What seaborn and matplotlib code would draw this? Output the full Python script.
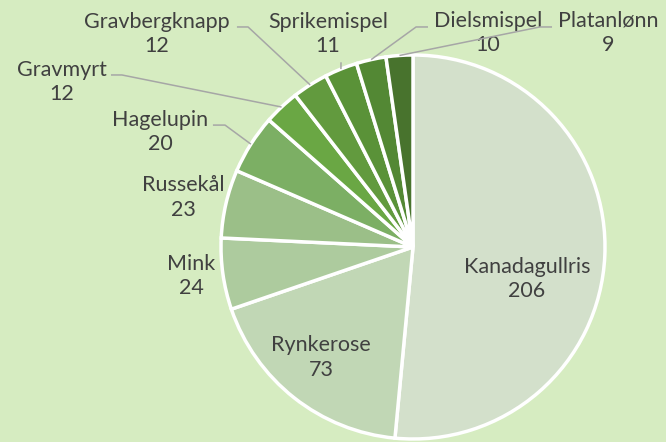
import matplotlib
matplotlib.use("Agg")
import numpy as np
import seaborn as sns
import matplotlib.pyplot as plt

# data
species = ["Kanadagullris", "Rynkerose", "Mink", "Russekål", "Hagelupin",
           "Gravmyrt", "Gravbergknapp", "Sprikemispel", "Dielsmispel", "Platanlønn"]
counts = [206, 73, 24, 23, 20, 12, 12, 11, 10, 9]

# style
colors = ["#d3e0cb", "#c1d7b5", "#adcb9e", "#9bbf88", "#7caf64",
          "#6aa744", "#629a3e", "#5a9238", "#538834", "#48732d"]
bg = "#d6ecc1"
text_color = "#404040"
line_color = "#a6a6a6"

# label block centres (pie units, radius = 1)
label_pos = [(0.594, -0.167), (-0.479, -0.576), (-1.156, -0.151), (-1.198, 0.258),
             (-1.318, 0.599), (-1.828, 0.859), (-1.333, 1.109), (-0.443, 1.109),
             (0.391, 1.115), (1.016, 1.115)]
# leader lines: (start at text, elbow) or None
leaders = [None, None, None, None,
           ((-1.042, 0.635), (-0.979, 0.635)),
           ((-1.573, 0.896), (-1.516, 0.896)),
           ((-0.917, 1.146), (-0.859, 1.146)),
           ((-0.375, 0.962), (-0.375, 0.962)),
           ((0.078, 1.146), (0.016, 1.146)),
           ((0.724, 1.146), (0.661, 1.146))]

sns.set_style("white", rc={"figure.facecolor": bg, "axes.facecolor": bg})
plt.rcParams["font.family"] = ["Lato", "DejaVu Sans"]

fig = plt.figure(figsize=(6.66, 4.42), dpi=100)
ax = fig.add_axes([0, 0, 1, 1])

wedges, _ = ax.pie(counts, colors=colors, startangle=90, counterclock=False,
                   radius=1.0, wedgeprops=dict(edgecolor="white", linewidth=2.5))

for name, val, (lx, ly) in zip(species, counts, label_pos):
    ax.text(lx, ly, f"{name}\n{val}", ha="center", va="center", fontsize=15.5,
            color=text_color, linespacing=1.3)

for w, ld in zip(wedges, leaders):
    if ld is None:
        continue
    mid = np.deg2rad((w.theta1 + w.theta2) / 2)
    ex, ey = np.cos(mid), np.sin(mid)
    (sx, sy), (bx, by) = ld
    ax.plot([sx, bx, ex], [sy, by, ey], color=line_color, lw=1.1,
            solid_capstyle="butt", zorder=3)

ax.set_xlim(-413 / 192, (666 - 413) / 192)
ax.set_ylim(-195 / 192, 247 / 192)
ax.set_aspect("auto")
ax.axis("off")

fig.savefig("out.png", dpi=100, facecolor=bg)
